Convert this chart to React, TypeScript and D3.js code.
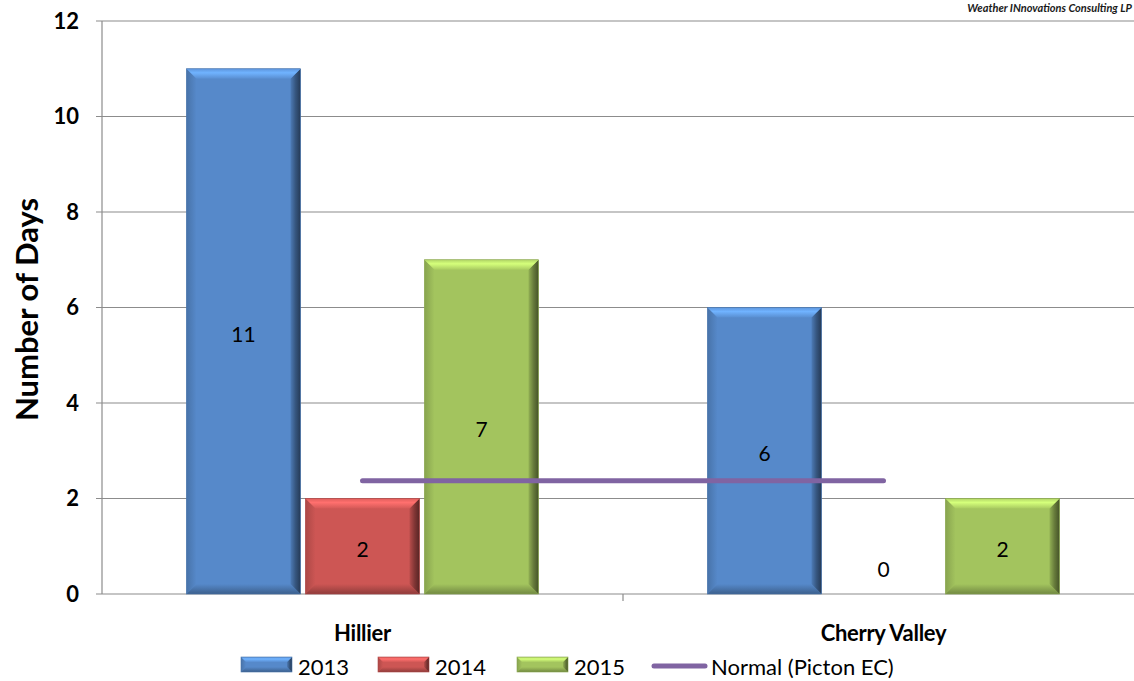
import React from 'react';
import * as d3 from 'd3';

// chart data
const categories = ['Hillier', 'Cherry Valley'];
const seriesNames = ['2013', '2014', '2015'];
const seriesColors = ['#5689CA', '#CD5654', '#A3C45E'];
const values2013 = [11, 6];
const values2014 = [2, 0];
const values2015 = [7, 2];
const normalName = 'Normal (Picton EC)';
const normalValues = [2.37, 2.37];
const normalColor = '#8064A2';
const yTicks = [0, 2, 4, 6, 8, 10, 12];
const watermark = 'Weather INnovations Consulting LP';

const seriesValues = [values2013, values2014, values2015];

const W = 1134;
const H = 681;
const margin = { top: 21, left: 102, bottom: 87, right: -10 };
const FONT = 'Lato, "Open Sans", sans-serif';

const shade = (c: string, k: number) => {
  const col = d3.color(c)!;
  return k > 0 ? col.brighter(k).formatHex() : col.darker(-k).formatHex();
};
const gid = (c: string, side: string) => `g${c.slice(1)}${side}`;

const Gradients: React.FC<{ colors: string[] }> = ({ colors }) => (
  <defs>
    {colors.map(c => (
      <React.Fragment key={c}>
        <linearGradient id={gid(c, 't')} x1="0" y1="0" x2="0" y2="1">
          <stop offset="0" stopColor={shade(c, 0.25)} />
          <stop offset="0.4" stopColor={shade(c, 0.75)} />
          <stop offset="1" stopColor={shade(c, 0.1)} />
        </linearGradient>
        <linearGradient id={gid(c, 'r')} x1="0" y1="0" x2="1" y2="0">
          <stop offset="0" stopColor={shade(c, -0.3)} />
          <stop offset="0.5" stopColor={shade(c, -1.3)} />
          <stop offset="1" stopColor={shade(c, -2.4)} />
        </linearGradient>
        <linearGradient id={gid(c, 'b')} x1="0" y1="0" x2="0" y2="1">
          <stop offset="0" stopColor={c} />
          <stop offset="1" stopColor={shade(c, -1.0)} />
        </linearGradient>
        <linearGradient id={gid(c, 'l')} x1="0" y1="0" x2="1" y2="0">
          <stop offset="0" stopColor={shade(c, -0.5)} />
          <stop offset="1" stopColor={c} />
        </linearGradient>
      </React.Fragment>
    ))}
  </defs>
);

const BevelBar: React.FC<{ x: number; y: number; w: number; h: number; color: string; bevel?: number }> = ({ x, y, w, h, color, bevel = 10 }) => {
  if (h <= 0) return null;
  const b = Math.min(bevel, h / 2, w / 2);
  const x2 = x + w;
  const y2 = y + h;
  const pts = (p: number[][]) => p.map(q => q.join(',')).join(' ');
  return (
    <g>
      <rect x={x} y={y} width={w} height={h} fill={color} />
      <polygon points={pts([[x, y], [x + b, y + b], [x + b, y2 - b], [x, y2]])} fill={`url(#${gid(color, 'l')})`} />
      <polygon points={pts([[x, y2], [x + b, y2 - b], [x2 - b, y2 - b], [x2, y2]])} fill={`url(#${gid(color, 'b')})`} />
      <polygon points={pts([[x2, y], [x2, y2], [x2 - b, y2 - b], [x2 - b, y + b]])} fill={`url(#${gid(color, 'r')})`} />
      <polygon points={pts([[x, y], [x2, y], [x2 - b, y + b], [x + b, y + b]])} fill={`url(#${gid(color, 't')})`} />
      <rect x={x} y={y} width={w} height={h} fill="none" stroke={shade(color, -0.5)} strokeWidth={0.6} />
    </g>
  );
};

const App: React.FC = () => {
  const x0 = d3.scaleBand<string>()
    .domain(categories)
    .range([margin.left, W - margin.right]);

  const x1 = d3.scaleBand<string>()
    .domain(seriesNames)
    .range([0, x0.bandwidth()])
    .paddingInner(0.042)
    .paddingOuter(0.71);

  const y = d3.scaleLinear()
    .domain([0, 12])
    .range([H - margin.bottom, margin.top]);

  const normalLine = d3.line<number>()
    .x((_, i) => x0(categories[i])! + x0.bandwidth() / 2)
    .y(d => y(d));

  const legendItems = [
    { name: seriesNames[0], color: seriesColors[0], x: 241, type: 'bar' },
    { name: seriesNames[1], color: seriesColors[1], x: 378, type: 'bar' },
    { name: seriesNames[2], color: seriesColors[2], x: 517, type: 'bar' },
    { name: normalName, color: normalColor, x: 654, type: 'line' },
  ];

  return (
    <svg width={W} height={H} style={{ display: 'block', position: 'absolute', left: 0, top: 0, background: '#fff' }} fontFamily={FONT}>
      <Gradients colors={seriesColors} />

      {/* watermark */}
      <text x={W - 2} y={12} textAnchor="end" fontSize={11} fontWeight="bold" fontStyle="italic" fill="#1a1a1a">{watermark}</text>

      {/* gridlines and y ticks */}
      {yTicks.map(t => (
        <g key={t}>
          <line x1={96} x2={W} y1={y(t)} y2={y(t)} stroke="#8c8c8c" strokeWidth={1.2} />
          <text x={79} y={y(t)} dy="0.36em" textAnchor="end" fontSize={22} fontWeight="bold" fill="#000">{t}</text>
        </g>
      ))}
      <line x1={margin.left} x2={margin.left} y1={y(12)} y2={y(0)} stroke="#8c8c8c" strokeWidth={1.2} />

      {/* category ticks */}
      {categories.map(c => (
        <line key={c} x1={x0(c)! + x0.bandwidth()} x2={x0(c)! + x0.bandwidth()} y1={y(0)} y2={y(0) + 7} stroke="#8c8c8c" strokeWidth={1.2} />
      ))}

      {/* bars */}
      {categories.map((c, ci) => (
        <g key={c}>
          {seriesNames.map((s, si) => {
            const v = seriesValues[si][ci];
            const bx = x0(c)! + x1(s)!;
            return (
              <BevelBar key={s} x={bx} y={y(v)} w={x1.bandwidth()} h={y(0) - y(v)} color={seriesColors[si]} />
            );
          })}
        </g>
      ))}

      {/* normal line */}
      <path d={normalLine(normalValues)!} fill="none" stroke={normalColor} strokeWidth={5} strokeLinecap="round" />

      {/* data labels */}
      {categories.map((c, ci) => (
        <g key={c}>
          {seriesNames.map((s, si) => {
            const v = seriesValues[si][ci];
            const cx = x0(c)! + x1(s)! + x1.bandwidth() / 2;
            const cy = v > 0 ? (y(v) + y(0)) / 2 + 3 : y(0) - 24;
            return (
              <text key={s} x={cx} y={cy} dy="0.35em" textAnchor="middle" fontSize={21} fill="#000">{v}</text>
            );
          })}
        </g>
      ))}

      {/* category labels */}
      {categories.map(c => (
        <text key={c} x={x0(c)! + x0.bandwidth() / 2} y={633} dy="0.35em" textAnchor="middle" fontSize={22} fontWeight="bold" fill="#000" letterSpacing={-0.3}>{c}</text>
      ))}

      {/* y axis title */}
      <text transform={`translate(27,${(y(0) + y(12)) / 2 + 2}) rotate(-90)`} dy="0.35em" textAnchor="middle" fontSize={31} fontWeight="bold" fill="#000">Number of Days</text>

      {/* legend */}
      {legendItems.map(it => (
        <g key={it.name}>
          {it.type === 'bar' ? (
            <BevelBar x={it.x} y={657} w={51} h={15} color={it.color} bevel={5} />
          ) : (
            <line x1={it.x} x2={it.x + 51} y1={666} y2={666} stroke={it.color} strokeWidth={5} strokeLinecap="round" />
          )}
          <text x={it.x + 57} y={667} dy="0.35em" fontSize={22} fill="#000">{it.name}</text>
        </g>
      ))}
    </svg>
  );
};

export default App;
